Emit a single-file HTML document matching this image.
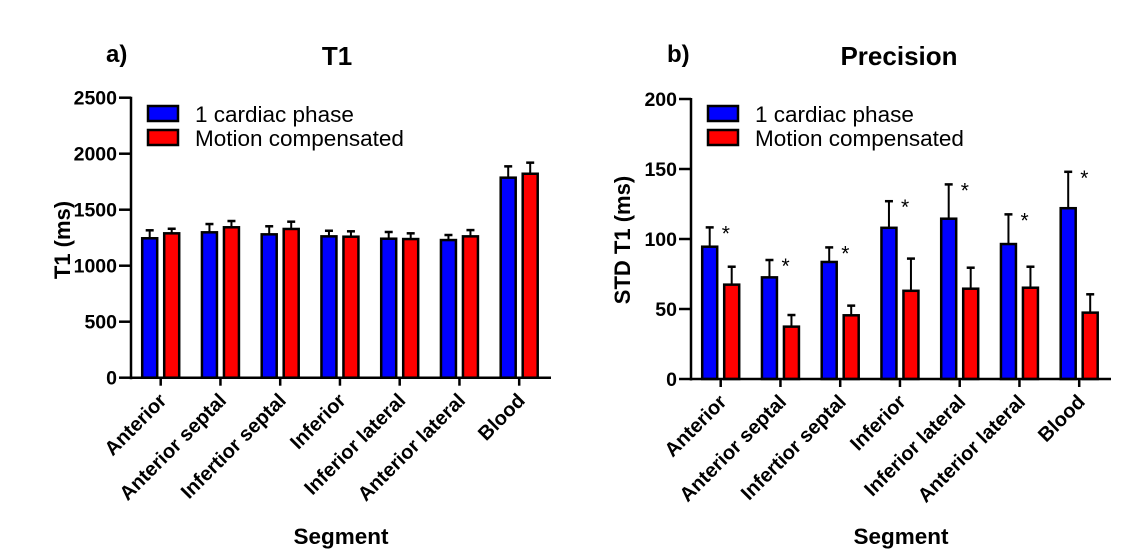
<!DOCTYPE html>
<html><head><meta charset="utf-8"><style>
body{margin:0;background:#fff;}
svg{display:block;font-family:"Liberation Sans",Arial,sans-serif;}
.b{font-weight:bold;}
</style></head><body>
<svg id="c" width="1124" height="553" viewBox="0 0 1124 553"></svg>
<script>
const categories = ["Anterior","Anterior septal","Infertior septal","Inferior","Inferior lateral","Anterior lateral","Blood"];
const t1Blue = [1245,1298,1280,1262,1241,1229,1786];
const t1BlueErr = [71,74,72,50,60,45,101];
const t1Red = [1289,1343,1328,1259,1238,1262,1821];
const t1RedErr = [41,56,65,48,51,56,99];
const stdBlue = [94.5,72.6,83.6,108,114.5,96.4,122];
const stdBlueErr = [13.8,12.4,10.4,19,24.5,21.2,26];
const stdRed = [67.4,37.4,45.5,63,64.5,65.2,47.4];
const stdRedErr = [12.8,8.3,6.9,23,15,15,13.1];
const t1Ticks = [0,500,1000,1500,2000,2500];
const stdTicks = [0,50,100,150,200];
const stars = [true,true,true,true,true,true,true];

const svg = document.getElementById('c');
const NS = 'http://www.w3.org/2000/svg';
function mk(tag, attrs, parent){
  const e = document.createElementNS(NS, tag);
  for (const k in attrs) e.setAttribute(k, attrs[k]);
  (parent||svg).appendChild(e);
  return e;
}
function chart(o){
  const g = mk('g', {});
  
  
  const y = v => o.y0 - (v / o.max) * (o.y0 - o.yTop);
  const x = i => o.x0 + 29.7 + i * 59.75;
  const series = [[o.blue,o.blueErr,'#0000ff',-11,'blue'],[o.red,o.redErr,'#ff0000',11,'red']];
  categories.forEach((c,i)=>{
    series.forEach(([vals,errs,col,off,nm])=>{
      const cx = x(i)+off, top = y(vals[i]), et = y(vals[i]+errs[i]);
      const l = mk('line',{x1:cx,x2:cx,y1:top,y2:et,stroke:'#000','stroke-width':2},g);
      
      
      mk('line',{x1:cx-4,x2:cx+4,y1:et,y2:et,stroke:'#000','stroke-width':2.5},g);
      const r = mk('rect',{x:cx-7.5,y:top,width:15,height:o.y0-top,fill:col,stroke:'#000','stroke-width':2.5},g);
      
      
    });
    if (o.stars && o.stars[i]) {
      const s = mk('text',{x:x(i)-11+12,y:y(o.blue[i]+o.blueErr[i])+13,'font-size':21},g);
      s.textContent='*';
      
      
    }
    mk('line',{x1:x(i),x2:x(i),y1:o.y0,y2:o.y0+8,stroke:'#000','stroke-width':2.5},g);
    const t = mk('text',{x:x(i)+7,y:o.y0+24,'font-size':20,'text-anchor':'end',class:'b',transform:`rotate(-45 ${x(i)+7} ${o.y0+24})`},g);
    t.textContent = c;
    
    
  });
  mk('line',{x1:o.x0,x2:o.x0,y1:o.yTop-1,y2:o.y0+1.5,stroke:'#000','stroke-width':2.5},g);
  mk('line',{x1:o.x0-1,x2:o.x0+420,y1:o.y0,y2:o.y0,stroke:'#000','stroke-width':2.5},g);
  o.ticks.forEach(v=>{
    mk('line',{x1:o.x0-12,x2:o.x0,y1:y(v),y2:y(v),stroke:'#000','stroke-width':2.5},g);
    const t = mk('text',{x:o.x0-14,y:y(v)+7,'font-size':19.5,'text-anchor':'end',class:'b'},g);
    t.textContent = v;
    
    
  });
  [['1 cardiac phase','#0000ff',106],['Motion compensated','#ff0000',130]].forEach(([lab,col,ly])=>{
    const r = mk('rect',{x:o.x0+17,y:ly,width:30,height:15,fill:col,stroke:'#000','stroke-width':2.5},g);
    
    
    const t = mk('text',{x:o.x0+64,y:ly+16,'font-size':22.5},g);
    t.textContent = lab;
    
    
  });
  const yt = mk('text',{x:o.ytX,y:240,'font-size':22,'text-anchor':'middle',class:'b',transform:`rotate(-90 ${o.ytX} 240)`},g);
  yt.textContent = o.yTitle;
  
  
  const xt = mk('text',{x:o.x0+210,y:544,'font-size':22.5,'text-anchor':'middle',class:'b'},g);
  xt.textContent = 'Segment';
  
  
  const tt = mk('text',{x:o.titleX,y:65,'font-size':26,'text-anchor':'middle',class:'b'},g);
  tt.textContent = o.title;
  
  
  const pl = mk('text',{x:o.panelX,y:62,'font-size':24,class:'b'},g);
  pl.textContent = o.panel;
  
  
}
chart({name:'t1-chart',x0:131,y0:377.7,yTop:97.7,max:2500,ticks:t1Ticks,blue:t1Blue,blueErr:t1BlueErr,red:t1Red,redErr:t1RedErr,yTitle:'T1 (ms)',ytX:70,title:'T1',titleX:337,panel:'a)',panelX:106});
chart({name:'precision-chart',x0:691,y0:379,yTop:99,max:200,ticks:stdTicks,blue:stdBlue,blueErr:stdBlueErr,red:stdRed,redErr:stdRedErr,stars:stars,yTitle:'STD T1 (ms)',ytX:630,title:'Precision',titleX:899,panel:'b)',panelX:667});
</script>
</body></html>
